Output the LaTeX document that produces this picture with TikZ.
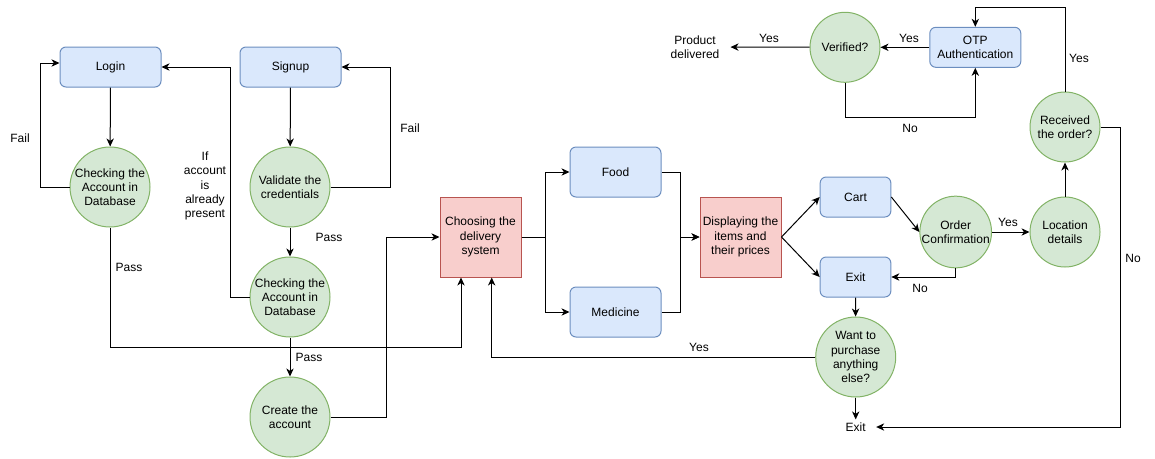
\documentclass[tikz,border=0pt]{standalone}
\usepackage{fontspec}
\setmainfont{Liberation Sans}
\usetikzlibrary{arrows.meta,calc}
\definecolor{blueF}{HTML}{DAE8FC}
\definecolor{blueS}{HTML}{6C8EBF}
\definecolor{greenF}{HTML}{D5E8D4}
\definecolor{greenS}{HTML}{82B366}
\definecolor{pinkF}{HTML}{F8CECC}
\definecolor{pinkS}{HTML}{B85450}
\begin{document}
\begin{tikzpicture}[x=0.75pt,y=-0.75pt,
 font=\fontsize{9}{10.6}\selectfont,
 line width=0.75pt,
 arr/.style={-{Stealth[length=6pt,width=5.5pt,inset=1.8pt]}},
 bluebox/.style={draw=blueS,fill=blueF,rounded corners=4.5pt,align=center,inner sep=0pt},
 greencirc/.style={circle,draw=greenS,fill=greenF,align=center,inner sep=0pt,minimum size=60pt},
 smallcirc/.style={greencirc,minimum size=52.5pt},
 pinkbox/.style={draw=pinkS,fill=pinkF,align=center,inner sep=0pt,minimum width=60.75pt,minimum height=60pt},
 lbl/.style={align=center,inner sep=0pt}]
\useasboundingbox (0,0) rectangle (1155,458);

% nodes
\node[bluebox,minimum width=75.75pt,minimum height=30pt] (login) at (110.5,67) {Login};
\node[bluebox,minimum width=75.75pt,minimum height=30pt] (signup) at (290.5,67) {Signup};
\node[greencirc] (chk1) at (110,187) {Checking the\\Account in\\Database};
\node[greencirc] (valid) at (290,187) {Validate the\\credentials};
\node[greencirc] (chk2) at (290,297) {Checking the\\Account in\\Database};
\node[greencirc] (create) at (290,417) {Create the\\account};
\node[pinkbox] (choose) at (480.5,237) {Choosing the\\delivery\\system};
\node[bluebox,minimum width=68.25pt,minimum height=37.5pt] (food) at (615.5,172) {Food};
\node[bluebox,minimum width=68.25pt,minimum height=37.5pt] (med) at (615.5,312) {Medicine};
\node[pinkbox] (disp) at (740.5,237) {Displaying the\\items and\\their prices};
\node[bluebox,minimum width=53pt,minimum height=30pt] (cart) at (855.5,197) {Cart};
\node[bluebox,minimum width=53pt,minimum height=30pt] (exitb) at (855.5,277) {Exit};
\node[smallcirc] (order) at (955.7,232) {Order\\Confirmation};
\node[smallcirc] (loc) at (1065,232) {Location\\details};
\node[smallcirc] (recv) at (1065,127) {Received\\the order?};
\node[bluebox,minimum width=68.25pt,minimum height=30pt] (otp) at (975.3,47.3) {OTP\\Authentication};
\node[smallcirc] (verif) at (845,47.3) {Verified?};
\node[lbl,inner xsep=8pt] (prod) at (695,47) {Product\\delivered};
\node[greencirc] (want) at (855.7,357) {Want to\\purchase\\anything\\else?};
\node[lbl,inner xsep=7.5pt,inner ysep=2pt] (exitt) at (855.7,427) {Exit};

% connectors
\draw[arr] (login) -- (chk1);
\draw[arr] (chk1.west) -- (40,187) |- ($(login.west)+(0,-4)$);
\draw[arr] (chk2.west) -- (230,297) |- (login.east);
\draw[arr] (signup) -- (valid);
\draw[arr] (valid.east) -- (390,187) |- (signup.east);
\draw[arr] (valid) -- (chk2);
\draw[arr] (chk2) -- (create);
\draw[arr] (chk1.south) -- (110,347) -| ($(choose.south)+(-19.5,0)$);
\draw[arr] (create.east) -- (386,417) |- (choose.west);
\draw[arr] (choose.east) -- (545.7,237) |- (food.west);
\draw[arr] (choose.east) -- (545.7,237) |- (med.west);
\draw[arr] (food.east) -- (680,172) |- (disp.west);
\draw[arr] (med.east) -- (680,312) |- (disp.west);
\draw[arr] (disp.east) -- (cart.west);
\draw[arr] (disp.east) -- (exitb.west);
\draw[arr] (cart.east) -- (order.west);
\draw[arr] (order) -- (loc);
\draw[arr] (order.south) |- (exitb.east);
\draw[arr] (exitb) -- (want);
\draw[arr] (want) -- (exitt);
\draw[arr] (want.west) -| ($(choose.south)+(11.2,0)$);
\draw[arr] (loc) -- (recv);
\draw[arr] (recv.east) -- (1120,127) |- (exitt.east);
\draw[arr] (recv.north) -- (1065,7.3) -| (otp.north);
\draw[arr] (otp) -- (verif);
\draw[arr] (verif) -- (prod);
\draw[arr] (verif.south) -- (845,117.3) -| (otp.south);

% labels
\node[lbl] (l1) at (20,138) {Fail};
\node[lbl] (l2) at (410,128) {Fail};
\node[lbl] (l3) at (205,186) {If\\account\\is\\already\\present};
\node[lbl] (l4) at (329,237) {Pass};
\node[lbl] (l5) at (309,357) {Pass};
\node[lbl] (l6) at (129,267) {Pass};
\node[lbl] (l7) at (699,347) {Yes};
\node[lbl] (l8) at (920,288) {No};
\node[lbl] (l9) at (1008,222) {Yes};
\node[lbl] (l10) at (1133,258) {No};
\node[lbl] (l11) at (1079,58) {Yes};
\node[lbl] (l12) at (909,38) {Yes};
\node[lbl] (l13) at (769,38) {Yes};
\node[lbl] (l14) at (910,128) {No};
\end{tikzpicture}
\end{document}
